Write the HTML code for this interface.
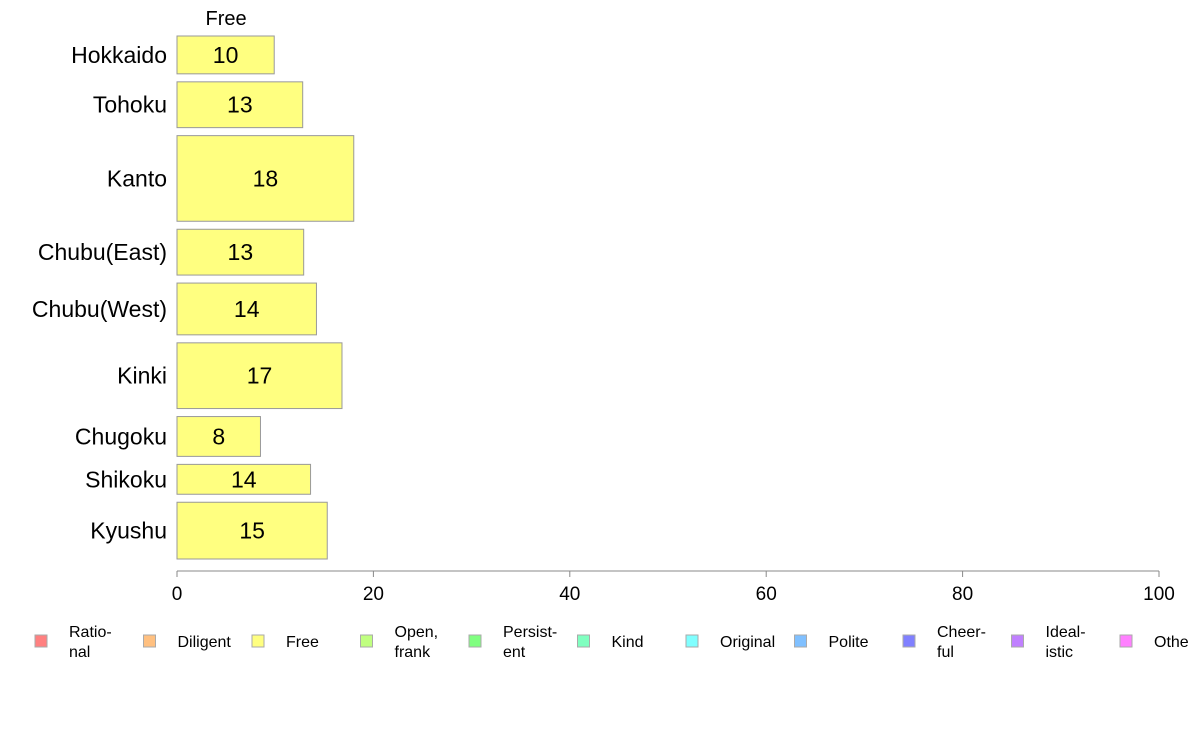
<!DOCTYPE html>
<html><head><meta charset="utf-8"><style>
body{margin:0;background:#fff;font-family:"Liberation Sans",Arial,sans-serif}
svg text{font-family:"Liberation Sans",Arial,sans-serif}
</style></head><body>
<svg id="c" width="1188" height="736" xmlns="http://www.w3.org/2000/svg"></svg>
<script>
const categories=["Hokkaido","Tohoku","Kanto","Chubu(East)","Chubu(West)","Kinki","Chugoku","Shikoku","Kyushu"];
const values=[9.9,12.8,18.0,12.9,14.2,16.8,8.5,13.6,15.3];
const labels=["10","13","18","13","14","17","8","14","15"];
const weights=[38,46,86,46,52,66,40,30,57];
const ticks=[0,20,40,60,80,100];
const legendNames=[["Ratio-","nal"],["Diligent"],["Free"],["Open,","frank"],["Persist-","ent"],["Kind"],["Original"],["Polite"],["Cheer-","ful"],["Ideal-","istic"],["Other"]];
const legendColors=["#ff8080","#ffc080","#ffff80","#c0ff80","#80ff80","#80ffc0","#80ffff","#80c0ff","#8080ff","#c080ff","#ff80ff"];
const svg=document.getElementById('c');const NS="http://www.w3.org/2000/svg";
function mk(t,a,p){const e=document.createElementNS(NS,t);for(const k in a)e.setAttribute(k,a[k]);(p||svg).appendChild(e);return e;}
const x0=177,x1=1159,xs=v=>x0+(x1-x0)*v/100;
const plotTop=36,plotBottom=559,gap=8;
const totalW=weights.reduce((a,b)=>a+b,0);
const unit=(plotBottom-plotTop-gap*(weights.length-1))/totalW;
let t=mk('text',{x:xs(5),y:25,'text-anchor':'middle','font-size':20});t.textContent="Free";


let y=plotTop;
categories.forEach((c,i)=>{const h=weights[i]*unit;
 const r=mk('rect',{x:x0,y:y,width:xs(values[i])-x0,height:h,fill:'#ffff80',stroke:'#999','stroke-width':1});
 
 
 const l=mk('text',{x:(x0+xs(values[i]))/2,y:y+h/2+8,'text-anchor':'middle','font-size':23});l.textContent=labels[i];
 
 
 const cl=mk('text',{x:167,y:y+h/2+8,'text-anchor':'end','font-size':23});cl.textContent=c;
 
 
 y+=h+gap;});
const ax=mk('line',{x1:x0,x2:x1,y1:571,y2:571,stroke:'#888'});


ticks.forEach(v=>{const tk=mk('line',{x1:xs(v),x2:xs(v),y1:571,y2:577,stroke:'#888'});
 
 
 const tl=mk('text',{x:xs(v),y:600,'text-anchor':'middle','font-size':19});tl.textContent=v;
 
 });
legendNames.forEach((n,i)=>{const bx=35+i*108.5;
 const b=mk('rect',{x:bx,y:635,width:12,height:12,fill:legendColors[i],stroke:'#aaa'});
 
 
 const tx=mk('text',{x:bx+34,'font-size':16});
 
 
 if(n.length===1){tx.setAttribute('y',647);tx.textContent=n[0];}
 else{n.forEach((s,j)=>{const ts=mk('tspan',{x:bx+34,y:637+j*20},tx);ts.textContent=s;});}
});
</script></body></html>
